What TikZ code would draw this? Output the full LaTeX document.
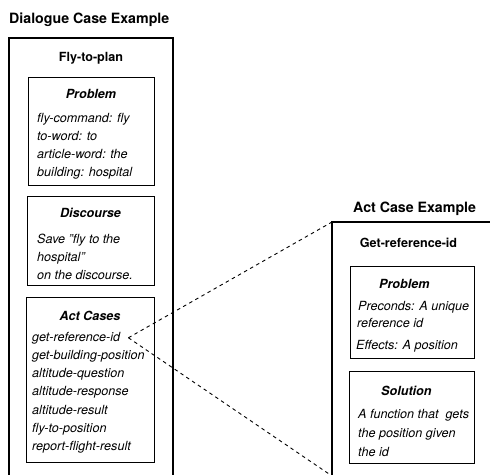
\documentclass[tikz,border=0pt]{standalone}
\usepackage{fontspec}
\setmainfont{TeX Gyre Heros}
\newcommand{\sq}{\symbol{34}}
\begin{document}
\begin{tikzpicture}[x=1pt,y=-1pt,
  outer/.style={draw, line width=1.8pt, rectangle, inner sep=0pt, outer sep=0pt, anchor=north west},
  inner/.style={draw, line width=1pt, rectangle, inner sep=0pt, outer sep=0pt, anchor=north west},
  title/.style={font=\fontsize{14.2}{17}\selectfont\bfseries, anchor=base west, inner sep=0pt},
  head/.style={font=\fontsize{12.6}{15}\selectfont\bfseries, anchor=base, inner sep=0pt},
  sub/.style={font=\fontsize{12.6}{15}\selectfont\bfseries\itshape, anchor=base, inner sep=0pt},
  txt/.style={font=\fontsize{12.6}{15}\selectfont\itshape, anchor=base west, inner sep=0pt},
  link/.style={dash pattern=on 3.5pt off 3.5pt, line width=0.9pt}]
\useasboundingbox (0,0) rectangle (490,474);
\clip (0,0) rectangle (490,474);

% ---- left: dialogue case ----
\node[title] (t1) at (9,23) {Dialogue Case Example};
\node[outer, minimum width=164pt, minimum height=460pt] (dlg) at (9,38) {};
\node[head] (fly) at (91,61.5) {Fly-to-plan};

\node[inner, minimum width=126pt, minimum height=108pt] (prob1) at (28,77) {};
\node[sub] (p1h) at (91,98.5) {Problem};
\node[txt] (p1a) at (37,122) {fly-command: fly};
\node[txt] (p1b) at (37,140) {to-word: to};
\node[txt] (p1c) at (37,158) {article-word: the};
\node[txt] (p1d) at (37,176) {building: hospital};

\node[inner, minimum width=127pt, minimum height=89pt] (disc) at (27,196) {};
\node[sub] (dh) at (90.5,217.5) {Discourse};
\node[txt] (da) at (37,243) {Save \sq fly to the};
\node[txt] (db) at (37,261) {hospital\sq};
\node[txt] (dc) at (37,279) {on the discourse.};

\node[inner, minimum width=128pt, minimum height=165pt] (acts) at (26,297) {};
\node[sub] (ah) at (90,320.5) {Act Cases};
\node[txt] (i1) at (32,341) {get-reference-id};
\node[txt] (i2) at (32,359.3) {get-building-position};
\node[txt] (i3) at (32,377.6) {altitude-question};
\node[txt] (i4) at (32,395.9) {altitude-response};
\node[txt] (i5) at (32,414.2) {altitude-result};
\node[txt] (i6) at (32,432.5) {fly-to-position};
\node[txt] (i7) at (32,450.8) {report-flight-result};

% ---- right: act case ----
\node[title] (t2) at (353,212) {Act Case Example};
\node[outer, minimum width=180pt, minimum height=254pt] (rbox) at (332,222) {};
\node[head] (gr) at (408.5,247.5) {Get-reference-id};

\node[inner, minimum width=124pt, minimum height=92pt] (prob2) at (350,266) {};
\node[sub, anchor=base west] (p2h) at (379,288.5) {Problem};
\node[txt] (p2a) at (358,310) {Preconds: A unique};
\node[txt] (p2b) at (357,327.5) {reference id};
\node[txt] (p2c) at (356,349.5) {Effects: A position};

\node[inner, minimum width=125pt, minimum height=92pt] (sol) at (349,371) {};
\node[sub, anchor=base west] (sh) at (381,395) {Solution};
\node[txt] (sa) at (358,418) {A function that~ gets};
\node[txt] (sb) at (358,437) {the position given};
\node[txt] (sc) at (358,456) {the id};

% ---- connectors ----
\coordinate (apex) at ([xshift=8pt]i1.east);
\draw[link] (apex) -- (rbox.north west);
\draw[link] (apex) -- (rbox.south west);
\end{tikzpicture}
\end{document}
